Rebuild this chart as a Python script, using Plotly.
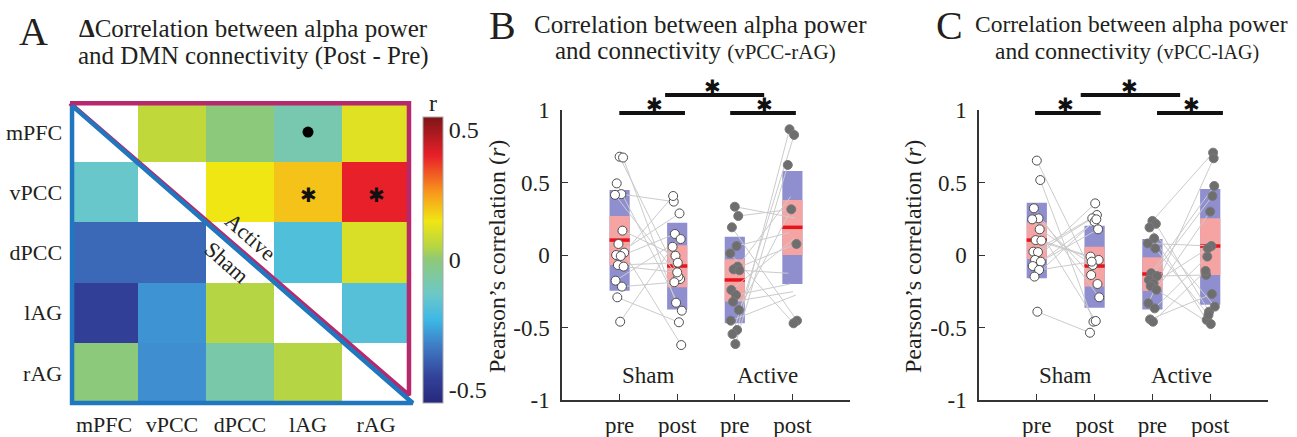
import plotly.graph_objects as go

W, H = 1297, 437
def fx(p): return p / W
def fy(p): return 1 - p / H

SERIF = "Liberation Serif"
TXT = "#231f20"

# ---------------- Panel A data ----------------
regions = ["mPFC", "vPCC", "dPCC", "lAG", "rAG"]
delta_r = [
    [None, 0.07, 0.00, -0.09, 0.12],
    [-0.14, None, 0.15, 0.20, 0.40],
    [-0.37, -0.37, None, -0.19, 0.11],
    [-0.46, -0.29, 0.05, None, -0.18],
    [0.00, -0.30, -0.08, 0.05, None],
]
trend_cells = [("lAG", "mPFC")]
sig_cells = [("lAG", "vPCC"), ("rAG", "vPCC")]

# ---------------- Panel B data (vPCC-rAG) ----------------
tick_labels = ["pre", "post", "pre", "post"]
B_sham_pre = [0.678, 0.672, 0.494, 0.420, 0.415, 0.168, 0.076, 0.016, 0.000, -0.007, -0.069, -0.080, -0.177, -0.218, -0.292, -0.460]
B_sham_post = [-0.166, -0.329, -0.384, 0.368, -0.149, -0.005, -0.621, 0.407, 0.287, 0.145, -0.053, -0.120, 0.110, -0.188, -0.464, 0.057]
B_act_pre = [0.333, 0.269, 0.191, 0.062, 0.011, -0.080, -0.099, -0.105, -0.241, -0.276, -0.322, -0.379, -0.453, -0.517, -0.545, -0.614]
B_act_post = [0.255, 0.315, -0.453, 0.154, -0.471, 0.402, 0.076, -0.126, 0.115, -0.200, -0.253, 0.330, -0.276, 0.867, 0.828, 0.621]
B_act_post_marked = [False, True, True, False, True, False, True, False, False, False, False, False, False, True, True, True]
B_outer_hi = [0.448, 0.223, 0.126, 0.579]
B_outer_lo = [-0.246, -0.375, -0.471, -0.200]
B_inner_hi = [0.269, 0.067, -0.030, 0.379]
B_inner_lo = [-0.069, -0.223, -0.320, 0.000]
B_center = [0.103, -0.076, -0.172, 0.191]

# ---------------- Panel C data (vPCC-lAG) ----------------
C_sham_pre = [0.651, 0.517, 0.322, 0.253, 0.246, 0.177, 0.103, 0.099, 0.023, 0.020, -0.034, -0.046, -0.076, -0.103, -0.149, -0.391]
C_sham_post = [-0.200, -0.460, -0.292, -0.138, -0.455, -0.069, -0.034, -0.011, 0.276, 0.253, 0.356, 0.230, 0.177, -0.046, 0.246, -0.536]
C_act_pre = [0.235, 0.215, 0.190, 0.115, 0.080, 0.046, -0.126, -0.145, -0.172, -0.195, -0.214, -0.240, -0.333, -0.368, -0.444, -0.460]
C_act_post = [0.706, -0.391, -0.356, -0.448, 0.062, -0.414, 0.476, -0.138, 0.407, 0.046, -0.476, 0.299, 0.667, -0.011, -0.269, -0.110]
C_outer_hi = [0.361, 0.202, 0.110, 0.455]
C_outer_lo = [-0.161, -0.363, -0.375, -0.343]
C_inner_hi = [0.225, 0.057, -0.016, 0.253]
C_inner_lo = [-0.028, -0.218, -0.248, -0.138]
C_center = [0.103, -0.076, -0.131, 0.062]

# small fixed horizontal offsets for dot display
jitter = [0.0, 0.06, -0.05, 0.03, -0.08, 0.05, -0.02, 0.08, -0.06, 0.02, -0.03, 0.07, -0.07, 0.04, -0.04, 0.01]

colorscale = [[0.0, "#26287c"], [0.09, "#334199"], [0.2, "#3f7cc6"], [0.29, "#3cb8e6"],
              [0.38, "#6cc8c8"], [0.5, "#8dc97a"], [0.545, "#b5d544"], [0.636, "#f0e614"],
              [0.736, "#f8981c"], [0.864, "#e8202a"], [1.0, "#7e1517"]]

fig = go.Figure()

# ---------- Panel A ----------
fig.add_trace(go.Heatmap(
    z=delta_r, x=list(range(5)), y=list(range(5)), colorscale=colorscale,
    zmin=-0.55, zmax=0.55, xaxis="x", yaxis="y", hoverongaps=False,
    colorbar=dict(x=fx(423), xanchor="left", y=fy(403), yanchor="bottom",
                  len=286, lenmode="pixels", thickness=20, thicknessmode="pixels",
                  outlinewidth=1, outlinecolor="#aaaaaa", xpad=0, ypad=0,
                  tickvals=[-0.5, 0, 0.5], ticktext=["-0.5", "0", "0.5"], ticks="",
                  tickfont=dict(family=SERIF, size=24, color=TXT)),
))
# triangle outlines (Active upper, Sham lower)
fig.add_trace(go.Scatter(x=[-0.5, 4.485, 4.485, -0.5], y=[-0.48, -0.48, 4.37, -0.48],
                         mode="lines", line=dict(color="#b8286c", width=4.5),
                         xaxis="x", yaxis="y", hoverinfo="skip"))
fig.add_trace(go.Scatter(x=[-0.47, -0.47, 4.54, -0.47], y=[-0.44, 4.5, 4.5, -0.44],
                         mode="lines", line=dict(color="#2077bf", width=4.5),
                         xaxis="x", yaxis="y", hoverinfo="skip"))
fig.add_trace(go.Scatter(x=[regions.index(c) for c, r in trend_cells],
                         y=[regions.index(r) for c, r in trend_cells],
                         mode="markers", marker=dict(color="black", size=11),
                         xaxis="x", yaxis="y", hoverinfo="skip"))

# ---------- Panels B, C ----------
def add_panel(xa, ya, sham_pre, sham_post, act_pre, act_post, act_post_marked,
              o_hi, o_lo, i_hi, i_lo, center):
    pos = [1, 2, 3, 4]
    w = 0.35
    fig.add_trace(go.Bar(x=pos, y=[h - l for h, l in zip(o_hi, o_lo)], base=o_lo, width=w,
                         marker=dict(color="#8f8fd0", line=dict(width=0)),
                         xaxis=xa, yaxis=ya, hoverinfo="skip"))
    fig.add_trace(go.Bar(x=pos, y=[h - l for h, l in zip(i_hi, i_lo)], base=i_lo, width=w,
                         marker=dict(color="#f5a3a3", line=dict(width=0)),
                         xaxis=xa, yaxis=ya, hoverinfo="skip"))
    mx, my = [], []
    for p, c in zip(pos, center):
        mx += [p - w / 2, p + w / 2, None]
        my += [c, c, None]
    fig.add_trace(go.Scatter(x=mx, y=my, mode="lines", line=dict(color="#e8141c", width=3.5),
                             xaxis=xa, yaxis=ya, hoverinfo="skip"))
    lx, ly = [], []
    for pre, post, p0 in ((sham_pre, sham_post, 1), (act_pre, act_post, 3)):
        for i, (a, b) in enumerate(zip(pre, post)):
            lx += [p0 + jitter[i], p0 + 1 + jitter[(i + 5) % 16], None]
            ly += [a, b, None]
    fig.add_trace(go.Scatter(x=lx, y=ly, mode="lines", line=dict(color="#cbcbcb", width=1),
                             xaxis=xa, yaxis=ya, hoverinfo="skip"))
    sx = [1 + jitter[i] for i in range(16)] + [2 + jitter[(i + 5) % 16] for i in range(16)]
    fig.add_trace(go.Scatter(x=sx, y=list(sham_pre) + list(sham_post), mode="markers",
                             marker=dict(size=9, color="white", line=dict(color="#4d4d4d", width=1)),
                             xaxis=xa, yaxis=ya, hoverinfo="skip"))
    ax_ = [3 + jitter[i] for i in range(16)]
    ay_ = list(act_pre)
    for i, v in enumerate(act_post):
        if act_post_marked[i]:
            ax_.append(4 + jitter[(i + 5) % 16])
            ay_.append(v)
    fig.add_trace(go.Scatter(x=ax_, y=ay_, mode="markers",
                             marker=dict(size=9, color="#6e6e6e", line=dict(color="#7a7a7a", width=1)),
                             xaxis=xa, yaxis=ya, hoverinfo="skip"))

add_panel("x2", "y2", B_sham_pre, B_sham_post, B_act_pre, B_act_post, B_act_post_marked,
          B_outer_hi, B_outer_lo, B_inner_hi, B_inner_lo, B_center)
add_panel("x3", "y3", C_sham_pre, C_sham_post, C_act_pre, C_act_post, [True] * 16,
          C_outer_hi, C_outer_lo, C_inner_hi, C_inner_lo, C_center)

# significance bars on overlay axes
sig_B = [([0.995, 2.135], 0.979), ([2.92, 4.06], 0.979), ([1.79, 3.51], 1.103)]
sig_C = [([0.97, 2.105], 0.979), ([3.08, 4.22], 0.979), ([1.76, 3.48], 1.103)]
for xa, ya, bars in (("x4", "y4", sig_B), ("x5", "y5", sig_C)):
    bx, by = [], []
    for (x0, x1), yy in bars:
        bx += [x0, x1, None]
        by += [yy, yy, None]
    fig.add_trace(go.Scatter(x=bx, y=by, mode="lines", line=dict(color="#111111", width=4),
                             xaxis=xa, yaxis=ya, hoverinfo="skip"))

# ---------- Layout ----------
hm_x0, hm_x1 = 70 - 0.1 * 68, 70 + 5.1 * 68
hm_y0, hm_y1 = 102 - 0.1 * 60.2, 102 + 5.1 * 60.2
axis_font = dict(family=SERIF, size=23, color=TXT)
main_x = dict(range=[0, 5], tickvals=[1, 2, 3, 4], ticktext=tick_labels, ticks="inside", ticklen=6,
              tickcolor="#333333", showline=True, linecolor="#333333", linewidth=1.5,
              showgrid=False, zeroline=False, tickfont=axis_font, ticklabelstandoff=4)
main_y = dict(range=[-1, 1], tickvals=[-1, -0.5, 0, 0.5, 1], ticktext=["-1", "-0.5", "0", "0.5", "1"],
              ticks="inside", ticklen=6, tickcolor="#333333", showline=True, linecolor="#333333",
              linewidth=1.5, showgrid=False, zeroline=False, tickfont=axis_font, ticklabelstandoff=6,
              domain=[fy(400), fy(110)])
top_range = [-1, -1 + 330 * (2 / 290)]
fig.update_layout(
    width=W, height=H, margin=dict(l=0, r=0, t=0, b=0, autoexpand=False),
    paper_bgcolor="white", plot_bgcolor="rgba(0,0,0,0)", showlegend=False, barmode="overlay",
    xaxis=dict(domain=[fx(hm_x0), fx(hm_x1)], range=[-0.6, 4.6], tickvals=list(range(5)),
               ticktext=regions, showgrid=False, zeroline=False, showline=False, ticks="",
               tickfont=dict(family=SERIF, size=22, color=TXT), anchor="y"),
    yaxis=dict(domain=[fy(hm_y1), fy(hm_y0)], range=[4.6, -0.6], tickvals=list(range(5)),
               ticktext=regions, showgrid=False, zeroline=False, showline=False, ticks="",
               tickfont=dict(family=SERIF, size=22, color=TXT), anchor="x"),
    xaxis2=dict(domain=[fx(562), fx(850)], anchor="y2", **main_x),
    yaxis2=dict(anchor="x2", **main_y),
    xaxis3=dict(domain=[fx(979), fx(1268)], anchor="y3", **main_x),
    yaxis3=dict(anchor="x3", **main_y),
    xaxis4=dict(domain=[fx(562), fx(850)], range=[0, 5], visible=False, anchor="y4"),
    yaxis4=dict(domain=[fy(400), fy(70)], range=top_range, visible=False, anchor="x4"),
    xaxis5=dict(domain=[fx(979), fx(1268)], range=[0, 5], visible=False, anchor="y5"),
    yaxis5=dict(domain=[fy(400), fy(70)], range=top_range, visible=False, anchor="x5"),
)

ann = []
def text(x, y, s, size, xref="paper", yref="paper", angle=0, **kw):
    ann.append(dict(x=x, y=y, xref=xref, yref=yref, text=s, showarrow=False, textangle=angle,
                    font=dict(family=kw.pop("family", SERIF), size=size, color=kw.pop("color", TXT)),
                    xanchor=kw.pop("xanchor", "center"), yanchor=kw.pop("yanchor", "middle"), **kw))

# panel letters
text(fx(33), fy(32), "A", 40)
text(fx(502), fy(25), "B", 40)
text(fx(950), fy(25), "C", 40)
# titles
text(fx(253), fy(28), "<b>Δ</b>Correlation between alpha power", 25)
text(fx(253), fy(56), "and DMN connectivity (Post - Pre)", 25)
text(fx(700), fy(24), "Correlation between alpha power", 25)
text(fx(695), fy(51), "and connectivity <span style='font-size:21px'>(vPCC-rAG)</span>", 25)
text(fx(1131), fy(24), "Correlation between alpha power", 23.5)
text(fx(1127), fy(51), "and connectivity <span style='font-size:20px'>(vPCC-lAG)</span>", 23.5)
# colorbar label
text(fx(433), fy(103), "r", 24)
# heatmap inner labels
text(2.147, 1.74, "Active", 22, xref="x", yref="y", angle=41.5)
text(1.81, 2.16, "Sham", 22, xref="x", yref="y", angle=41.5)
for c, r in sig_cells:
    text(regions.index(c), regions.index(r) + 0.05, "✱", 20, xref="x", yref="y",
         family="DejaVu Sans", color="#111111")
# y labels
text(fx(497), fy(257), "Pearson’s correlation (<i>r</i>)", 24, angle=-90)
text(fx(913), fy(257), "Pearson’s correlation (<i>r</i>)", 24, angle=-90)
# group labels
for xr, yr, xs, xa_ in (("x2", "y2", 1.51, 3.56), ("x3", "y3", 1.49, 3.5)):
    text(xs, -0.83, "Sham", 23, xref=xr, yref=yr)
    text(xa_, -0.83, "Active", 23, xref=xr, yref=yr)
# significance asterisks
for xr, yr, pts in (("x4", "y4", [(1.6, 1.035), (3.52, 1.035), (2.62, 1.16)]),
                    ("x5", "y5", [(1.5, 1.035), (3.67, 1.035), (2.6, 1.16)])):
    for x, y in pts:
        text(x, y, "✱", 20, xref=xr, yref=yr, family="DejaVu Sans", color="#111111")

fig.update_layout(annotations=ann)
fig.write_html("out.html", config={"displayModeBar": False},
               post_script="document.body.style.margin='0px';")
